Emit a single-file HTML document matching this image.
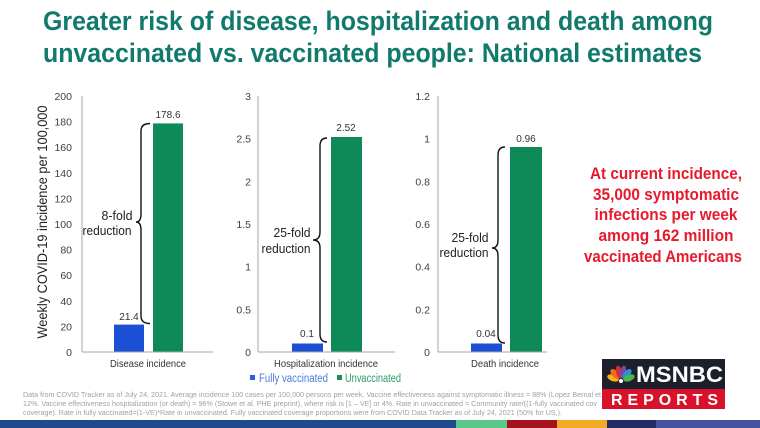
<!DOCTYPE html>
<html>
<head>
<meta charset="utf-8">
<style>
html,body{margin:0;padding:0;background:#fff;}
svg{display:block;}
text{font-family:"Liberation Sans",sans-serif;}
</style>
</head>
<body>
<svg width="760" height="428" viewBox="0 0 760 428" xmlns="http://www.w3.org/2000/svg">
<rect width="760" height="428" fill="#fff"/>

<!-- Title -->
<text x="43" y="30" font-size="26.5" font-weight="bold" fill="#107a6c" textLength="670" lengthAdjust="spacingAndGlyphs">Greater risk of disease, hospitalization and death among</text>
<text x="43" y="62" font-size="26.5" font-weight="bold" fill="#107a6c" textLength="659" lengthAdjust="spacingAndGlyphs">unvaccinated vs. vaccinated people: National estimates</text>

<!-- Y axis title -->
<text transform="translate(47,222) rotate(-90)" text-anchor="middle" font-size="14" fill="#222" textLength="233" lengthAdjust="spacingAndGlyphs">Weekly COVID-19 incidence per 100,000</text>

<!-- Chart 1 -->
<g font-size="10.5" fill="#404040" text-anchor="end">
<text x="72" y="100">200</text>
<text x="72" y="125.6">180</text>
<text x="72" y="151.2">160</text>
<text x="72" y="176.8">140</text>
<text x="72" y="202.4">120</text>
<text x="72" y="228">100</text>
<text x="72" y="253.6">80</text>
<text x="72" y="279.2">60</text>
<text x="72" y="304.8">40</text>
<text x="72" y="330.4">20</text>
<text x="72" y="356">0</text>
</g>
<line x1="82" y1="96" x2="82" y2="352" stroke="#a6a6a6" stroke-width="1"/>
<rect x="114" y="324.6" width="30" height="27.4" fill="#1a4fd6"/>
<rect x="153" y="123.4" width="30" height="228.6" fill="#0e8a58"/>
<line x1="82" y1="352" x2="213" y2="352" stroke="#a6a6a6" stroke-width="1"/>
<text x="168" y="118" font-size="10" fill="#333" text-anchor="middle">178.6</text>
<text x="129" y="320" font-size="10" fill="#333" text-anchor="middle">21.4</text>
<path d="M150,123.5 Q141,123.5 141,131 L141,214 Q141,222 136,222 Q141,222 141,230 L141,316 Q141,323.5 150,323.5" fill="none" stroke="#111" stroke-width="1.4"/>
<text x="117" y="220" font-size="13" fill="#222" text-anchor="middle" textLength="31" lengthAdjust="spacingAndGlyphs">8-fold</text>
<text x="107" y="235" font-size="13" fill="#222" text-anchor="middle" textLength="49" lengthAdjust="spacingAndGlyphs">reduction</text>
<text x="148" y="367" font-size="10.5" fill="#333" text-anchor="middle" textLength="76" lengthAdjust="spacingAndGlyphs">Disease incidence</text>

<!-- Chart 2 -->
<g font-size="10.5" fill="#404040" text-anchor="end">
<text x="251" y="100">3</text>
<text x="251" y="142.7">2.5</text>
<text x="251" y="185.3">2</text>
<text x="251" y="228">1.5</text>
<text x="251" y="270.7">1</text>
<text x="251" y="313.3">0.5</text>
<text x="251" y="356">0</text>
</g>
<line x1="258" y1="96" x2="258" y2="352" stroke="#a6a6a6" stroke-width="1"/>
<rect x="292" y="343.5" width="31" height="8.5" fill="#1a4fd6"/>
<rect x="331" y="137" width="31" height="215" fill="#0e8a58"/>
<line x1="258" y1="352" x2="395" y2="352" stroke="#a6a6a6" stroke-width="1"/>
<text x="346" y="131" font-size="10" fill="#333" text-anchor="middle">2.52</text>
<text x="307" y="337" font-size="10" fill="#333" text-anchor="middle">0.1</text>
<path d="M327,138 Q320,138 320,146 L320,232 Q320,240 313,240 Q320,240 320,248 L320,334 Q320,342 327,342" fill="none" stroke="#111" stroke-width="1.4"/>
<text x="292" y="237" font-size="13" fill="#222" text-anchor="middle" textLength="37" lengthAdjust="spacingAndGlyphs">25-fold</text>
<text x="286" y="253" font-size="13" fill="#222" text-anchor="middle" textLength="49" lengthAdjust="spacingAndGlyphs">reduction</text>
<text x="326" y="367" font-size="10.5" fill="#333" text-anchor="middle" textLength="104" lengthAdjust="spacingAndGlyphs">Hospitalization incidence</text>

<!-- Chart 3 -->
<g font-size="10.5" fill="#404040" text-anchor="end">
<text x="430" y="100">1.2</text>
<text x="430" y="142.7">1</text>
<text x="430" y="185.3">0.8</text>
<text x="430" y="228">0.6</text>
<text x="430" y="270.7">0.4</text>
<text x="430" y="313.3">0.2</text>
<text x="430" y="356">0</text>
</g>
<line x1="438" y1="96" x2="438" y2="352" stroke="#a6a6a6" stroke-width="1"/>
<rect x="471" y="343.5" width="31" height="8.5" fill="#1a4fd6"/>
<rect x="510" y="147" width="32" height="205" fill="#0e8a58"/>
<line x1="438" y1="352" x2="547" y2="352" stroke="#a6a6a6" stroke-width="1"/>
<text x="526" y="142" font-size="10" fill="#333" text-anchor="middle">0.96</text>
<text x="486" y="337" font-size="10" fill="#333" text-anchor="middle">0.04</text>
<path d="M505,147 Q498,147 498,155 L498,240 Q498,248 492,248 Q498,248 498,256 L498,335 Q498,343 505,343" fill="none" stroke="#111" stroke-width="1.4"/>
<text x="470" y="242" font-size="13" fill="#222" text-anchor="middle" textLength="37" lengthAdjust="spacingAndGlyphs">25-fold</text>
<text x="464" y="257" font-size="13" fill="#222" text-anchor="middle" textLength="49" lengthAdjust="spacingAndGlyphs">reduction</text>
<text x="505" y="367" font-size="10.5" fill="#333" text-anchor="middle" textLength="68" lengthAdjust="spacingAndGlyphs">Death incidence</text>

<!-- Legend -->
<rect x="250" y="375" width="5" height="5" fill="#2a5fd8"/>
<text x="259" y="382" font-size="11.5" fill="#4a7bd8" textLength="69" lengthAdjust="spacingAndGlyphs">Fully vaccinated</text>
<rect x="337" y="375" width="5" height="5" fill="#1e8a58"/>
<text x="345" y="382" font-size="11.5" fill="#2e9a6a" textLength="56" lengthAdjust="spacingAndGlyphs">Unvaccinated</text>

<!-- Red annotation -->
<g font-size="17" font-weight="bold" fill="#e8192c" text-anchor="middle">
<text x="666" y="179" textLength="152" lengthAdjust="spacingAndGlyphs">At current incidence,</text>
<text x="666" y="200" textLength="146" lengthAdjust="spacingAndGlyphs">35,000 symptomatic</text>
<text x="666" y="220" textLength="143" lengthAdjust="spacingAndGlyphs">infections per week</text>
<text x="666" y="241" textLength="135" lengthAdjust="spacingAndGlyphs">among 162 million</text>
<text x="663" y="262" textLength="158" lengthAdjust="spacingAndGlyphs">vaccinated Americans</text>
</g>

<!-- Footnote -->
<g font-size="7" fill="#a0a0a0">
<text x="23" y="397" textLength="578" lengthAdjust="spacingAndGlyphs">Data from COVID Tracker as of July 24, 2021. Average incidence 100 cases per 100,000 persons per week. Vaccine effectiveness against symptomatic illness = 88% (Lopez Bernal et</text>
<text x="23" y="406" textLength="574" lengthAdjust="spacingAndGlyphs">12%. Vaccine effectiveness hospitalization (or death) = 96% (Stowe et al. PHE preprint), where risk is [1 – VE] or 4%.  Rate in unvaccinated = Community rate/((1-fully vaccinated cov</text>
<text x="23" y="415" textLength="539" lengthAdjust="spacingAndGlyphs">coverage). Rate in fully vaccinated=(1-VE)*Rate in unvaccinated. Fully vaccinated coverage proportions were from COVID Data Tracker as of July 24, 2021 (50% for US,).</text>
</g>

<!-- MSNBC logo -->
<rect x="601" y="358" width="125" height="52" fill="#fff"/>
<rect x="602" y="359" width="123" height="30" fill="#1c1f2c"/>
<rect x="602" y="389" width="123" height="20" fill="#d9122b"/>
<g transform="translate(621,383)">
<ellipse cx="-8" cy="-5" rx="3.2" ry="6" transform="rotate(-70 -8 -5)" fill="#f7b21a"/>
<ellipse cx="-6" cy="-9" rx="3.2" ry="6" transform="rotate(-40 -6 -9)" fill="#ef6c1f"/>
<ellipse cx="-2" cy="-11" rx="3" ry="6.5" transform="rotate(-12 -2 -11)" fill="#d62b3b"/>
<ellipse cx="2" cy="-11" rx="3" ry="6.5" transform="rotate(12 2 -11)" fill="#7b4aa0"/>
<ellipse cx="6" cy="-9" rx="3.2" ry="6" transform="rotate(40 6 -9)" fill="#2a8fd6"/>
<ellipse cx="8" cy="-5" rx="3.2" ry="6" transform="rotate(70 8 -5)" fill="#4cb748"/>
<circle cx="0" cy="-2" r="2" fill="#fff"/>
</g>
<text x="636" y="382" font-size="22" font-weight="bold" fill="#fff" textLength="87" lengthAdjust="spacingAndGlyphs">MSNBC</text>
<text x="611" y="405" font-size="16" font-weight="bold" fill="#fff" textLength="107" lengthAdjust="spacing">REPORTS</text>

<!-- Bottom stripe -->
<rect x="0" y="420" width="456" height="8" fill="#1f4a8c"/>
<rect x="456" y="420" width="51" height="8" fill="#58c98a"/>
<rect x="507" y="420" width="50" height="8" fill="#a5111f"/>
<rect x="557" y="420" width="50" height="8" fill="#f2ab22"/>
<rect x="607" y="420" width="49" height="8" fill="#262a63"/>
<rect x="656" y="420" width="104" height="8" fill="#4651a0"/>
</svg>
</body>
</html>
